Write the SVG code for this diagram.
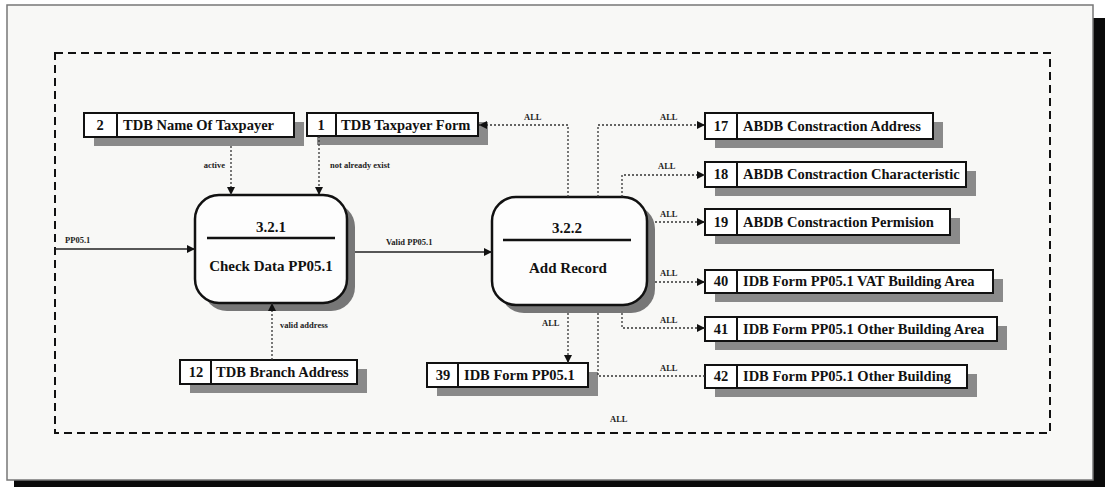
<svg xmlns="http://www.w3.org/2000/svg" width="1105" height="487" viewBox="0 0 1105 487">
<style>
  .store rect.box { fill: #ffffff; stroke: #111; stroke-width: 2; }
  .shadow { fill: #8a8a8a; }
  .div { stroke: #111; stroke-width: 2; }
  .st { font-family: "Liberation Serif", serif; font-weight: bold; font-size: 14.5px; fill: #111; }
  .lbl { font-family: "Liberation Serif", serif; font-weight: bold; font-size: 8.5px; fill: #222; }
  .ptxt { font-family: "Liberation Serif", serif; font-weight: bold; font-size: 15px; fill: #111; text-anchor: middle; }
  .proc { fill: #fdfdfd; stroke: #111; stroke-width: 2.5; }
  .dot { fill: none; stroke: #333; stroke-width: 1.3; stroke-dasharray: 2 2; }
  .solid { fill: none; stroke: #222; stroke-width: 1.4; }
</style>
<defs>
  <marker id="arr" viewBox="0 0 10 10" refX="10" refY="5" markerWidth="8" markerHeight="8" markerUnits="userSpaceOnUse" orient="auto">
    <path d="M0,0 L10,5 L0,10 z" fill="#111"/>
  </marker>
</defs>
<rect x="0" y="0" width="1105" height="487" fill="#ffffff"/>
<rect x="1093" y="18" width="12" height="469" fill="#0a0a0a"/>
<rect x="14" y="480" width="1091" height="7" fill="#0a0a0a"/>
<rect x="7" y="5" width="1086" height="475" fill="#f8f8f6" stroke="#777" stroke-width="1.5"/>
<rect x="55" y="53" width="995" height="380" fill="none" stroke="#111" stroke-width="2" stroke-dasharray="8 5"/>

<g id="p321">
  <rect x="203" y="203" width="152" height="108" rx="24" fill="#777"/>
  <rect class="proc" x="195" y="195" width="152" height="108" rx="24"/>
  <text class="ptxt" x="271" y="232">3.2.1</text>
  <line x1="207" y1="238" x2="335" y2="238" stroke="#111" stroke-width="2.5"/>
  <text class="ptxt" x="271" y="271">Check Data PP05.1</text>
</g>
<g id="p322">
  <rect x="500" y="205" width="155" height="108" rx="24" fill="#777"/>
  <rect class="proc" x="492" y="197" width="155" height="108" rx="24"/>
  <text class="ptxt" x="567" y="233">3.2.2</text>
  <line x1="503" y1="240" x2="631" y2="240" stroke="#111" stroke-width="2.5"/>
  <text class="ptxt" x="568" y="273">Add Record</text>
</g>

<g id="s2" class="store">
  <rect class="shadow" x="94" y="122" width="210" height="24"/>
  <rect class="box" x="84" y="113" width="210" height="24"/>
  <line class="div" x1="117" y1="113" x2="117" y2="137"/>
  <text class="st" x="100" y="130" text-anchor="middle">2</text>
  <text class="st" x="123" y="130">TDB Name Of Taxpayer</text>
</g>
<g id="s1" class="store">
  <rect class="shadow" x="317" y="122" width="171" height="23"/>
  <rect class="box" x="307" y="113" width="171" height="23"/>
  <line class="div" x1="336" y1="113" x2="336" y2="136"/>
  <text class="st" x="321" y="130" text-anchor="middle">1</text>
  <text class="st" x="341" y="130">TDB Taxpayer Form</text>
</g>
<g id="s12" class="store">
  <rect class="shadow" x="190" y="369" width="177" height="24"/>
  <rect class="box" x="180" y="360" width="177" height="24"/>
  <line class="div" x1="211" y1="360" x2="211" y2="384"/>
  <text class="st" x="196" y="377" text-anchor="middle">12</text>
  <text class="st" x="216" y="377">TDB Branch Address</text>
</g>
<g id="s39" class="store">
  <rect class="shadow" x="437" y="372" width="161" height="24"/>
  <rect class="box" x="427" y="363" width="161" height="24"/>
  <line class="div" x1="458" y1="363" x2="458" y2="387"/>
  <text class="st" x="443" y="380" text-anchor="middle">39</text>
  <text class="st" x="464" y="380">IDB Form PP05.1</text>
</g>
<g id="s17" class="store">
  <rect class="shadow" x="715" y="122" width="228" height="26"/>
  <rect class="box" x="705" y="113" width="228" height="26"/>
  <line class="div" x1="737" y1="113" x2="737" y2="139"/>
  <text class="st" x="721" y="131" text-anchor="middle">17</text>
  <text class="st" x="743" y="131">ABDB Constraction Address</text>
</g>
<g id="s18" class="store">
  <rect class="shadow" x="715" y="171" width="261" height="25"/>
  <rect class="box" x="705" y="162" width="261" height="25"/>
  <line class="div" x1="737" y1="162" x2="737" y2="187"/>
  <text class="st" x="721" y="179" text-anchor="middle">18</text>
  <text class="st" x="743" y="179">ABDB Constraction Characteristic</text>
</g>
<g id="s19" class="store">
  <rect class="shadow" x="715" y="218" width="245" height="26"/>
  <rect class="box" x="705" y="209" width="245" height="26"/>
  <line class="div" x1="737" y1="209" x2="737" y2="235"/>
  <text class="st" x="721" y="227" text-anchor="middle">19</text>
  <text class="st" x="743" y="227">ABDB Constraction Permision</text>
</g>
<g id="s40" class="store">
  <rect class="shadow" x="715" y="279" width="288" height="23"/>
  <rect class="box" x="705" y="270" width="288" height="23"/>
  <line class="div" x1="737" y1="270" x2="737" y2="293"/>
  <text class="st" x="721" y="286" text-anchor="middle">40</text>
  <text class="st" x="743" y="286">IDB Form PP05.1 VAT Building Area</text>
</g>
<g id="s41" class="store">
  <rect class="shadow" x="715" y="326" width="292" height="24"/>
  <rect class="box" x="705" y="317" width="292" height="24"/>
  <line class="div" x1="737" y1="317" x2="737" y2="341"/>
  <text class="st" x="721" y="334" text-anchor="middle">41</text>
  <text class="st" x="743" y="334">IDB Form PP05.1 Other Building Area</text>
</g>
<g id="s42" class="store">
  <rect class="shadow" x="715" y="374" width="262" height="23"/>
  <rect class="box" x="705" y="365" width="262" height="23"/>
  <line class="div" x1="737" y1="365" x2="737" y2="388"/>
  <text class="st" x="721" y="381" text-anchor="middle">42</text>
  <text class="st" x="743" y="381">IDB Form PP05.1 Other Building</text>
</g>

<g id="connectors">
  <path class="dot" d="M231,146 V195" marker-end="url(#arr)"/>
  <text class="lbl" x="225" y="168" text-anchor="end">active</text>
  <path class="dot" d="M319,136 V195" marker-end="url(#arr)"/>
  <text class="lbl" x="330" y="168">not already exist</text>
  <path class="solid" d="M55,249 H195" marker-end="url(#arr)"/>
  <text class="lbl" x="65" y="243">PP05.1</text>
  <path class="dot" d="M272,360 V303" marker-end="url(#arr)"/>
  <text class="lbl" x="280" y="328">valid address</text>
  <path class="solid" d="M355,252 H492" marker-end="url(#arr)"/>
  <text class="lbl" x="386" y="245">Valid PP05.1</text>
  <path class="dot" d="M568,197 V125 H479" marker-end="url(#arr)"/>
  <text class="lbl" x="524" y="120">ALL</text>
  <path class="dot" d="M598,197 V125 H705" marker-end="url(#arr)"/>
  <text class="lbl" x="660" y="120">ALL</text>
  <path class="dot" d="M622,197 V175 H705" marker-end="url(#arr)"/>
  <text class="lbl" x="658" y="169">ALL</text>
  <path class="dot" d="M655,222 H705" marker-end="url(#arr)"/>
  <text class="lbl" x="660" y="217">ALL</text>
  <path class="dot" d="M655,282 H705" marker-end="url(#arr)"/>
  <text class="lbl" x="660" y="276">ALL</text>
  <path class="dot" d="M622,313 V328 H705" marker-end="url(#arr)"/>
  <text class="lbl" x="660" y="323">ALL</text>
  <path class="dot" d="M568,313 V363" marker-end="url(#arr)"/>
  <text class="lbl" x="542" y="326">ALL</text>
  <path class="dot" d="M598,313 V376 H705"/>
  <text class="lbl" x="660" y="371">ALL</text>
  <text class="lbl" x="610" y="422">ALL</text>
</g>
</svg>
